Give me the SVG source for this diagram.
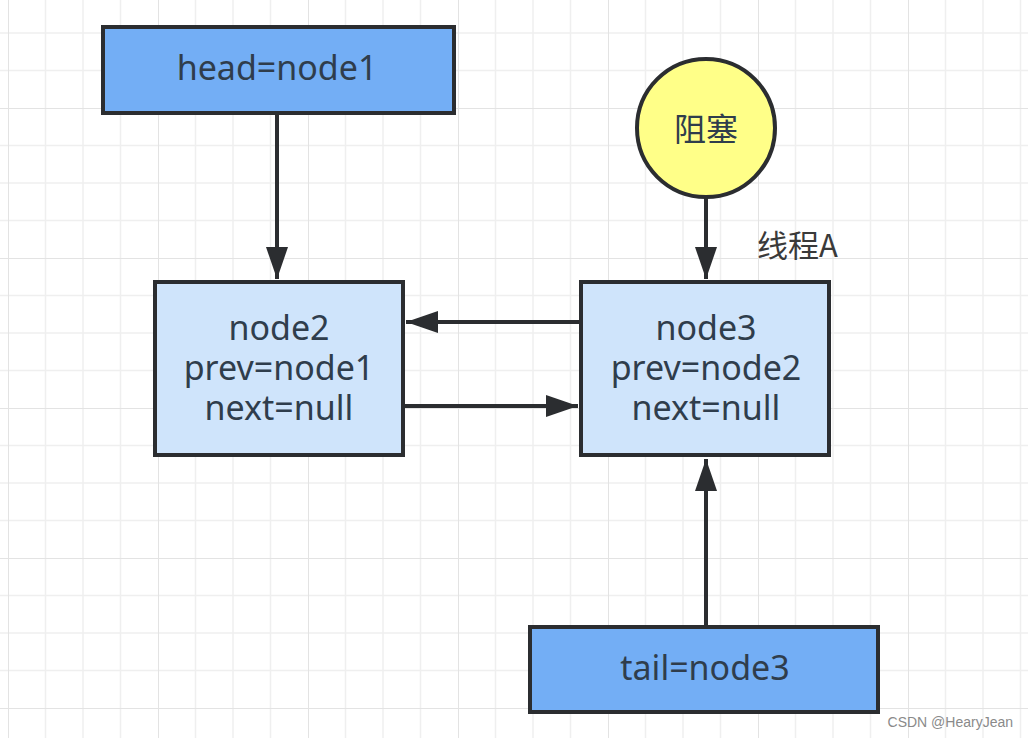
<svg xmlns="http://www.w3.org/2000/svg" width="1028" height="738" viewBox="0 0 1028 738">
<style>
.box{stroke:#2b2d30;stroke-width:4}
.dark{fill:#73aef5}
.light{fill:#cfe4fb}
.t{font-family:"Noto Sans","Noto Sans CJK SC",sans-serif;font-size:34px;fill:#2f3d4c;text-anchor:middle}
.edge{stroke:#2b2d30;stroke-width:4;fill:none}
</style>
<defs>
<pattern id="grid" x="8" y="108" width="150" height="150" patternUnits="userSpaceOnUse">
<path d="M37.5 0V150M75 0V150M112.5 0V150M0 37.5H150M0 75H150M0 112.5H150" stroke="#efefef" stroke-width="1.5" fill="none"/>
<path d="M0 0V150M0 0H150" stroke="#e3e3e3" stroke-width="2" fill="none"/>
</pattern>
<marker id="arr" viewBox="0 0 32 22" refX="32" refY="11" markerWidth="32" markerHeight="22" markerUnits="userSpaceOnUse" orient="auto">
<path d="M0 0L32 11L0 22Z" fill="#2b2d30"/>
</marker>
</defs>
<rect width="1028" height="738" fill="#ffffff"/>
<rect width="1028" height="738" fill="url(#grid)"/>
<g id="connectors">
<line class="edge" x1="277" y1="114" x2="277" y2="279" marker-end="url(#arr)"/>
<line class="edge" x1="706" y1="197" x2="706" y2="279" marker-end="url(#arr)"/>
<line class="edge" x1="579" y1="322" x2="406" y2="322" marker-end="url(#arr)"/>
<line class="edge" x1="404" y1="406" x2="578" y2="406" marker-end="url(#arr)"/>
<line class="edge" x1="706" y1="626" x2="706" y2="459" marker-end="url(#arr)"/>
</g>
<g id="head">
<rect class="box dark" x="103" y="27" width="351" height="86"/>
<text class="t" x="277" y="80">head=node1</text>
</g>
<g id="block">
<circle class="box" cx="706" cy="128" r="69" fill="#ffff88"/>
<text class="t" x="706" y="141" style="font-family:'Noto Sans CJK SC',sans-serif;font-size:32px">阻塞</text>
</g>
<g id="threadA">
<text x="757" y="257" style="font-family:'Noto Sans CJK SC',sans-serif;font-size:31px;fill:#3a3a3a">线程A</text>
</g>
<g id="node2">
<rect class="box light" x="155" y="282" width="248" height="173"/>
<text class="t" x="279" y="340">node2</text>
<text class="t" x="279" y="380">prev=node1</text>
<text class="t" x="279" y="420">next=null</text>
</g>
<g id="node3">
<rect class="box light" x="581" y="282" width="248" height="173"/>
<text class="t" x="706" y="340">node3</text>
<text class="t" x="706" y="380">prev=node2</text>
<text class="t" x="706" y="420">next=null</text>
</g>
<g id="tail">
<rect class="box dark" x="530" y="627" width="348" height="85"/>
<text class="t" x="705" y="680">tail=node3</text>
</g>
<text x="1013" y="727" text-anchor="end" style="font-family:'Liberation Sans',Arial,sans-serif;font-size:14px;fill:#8a8a8a">CSDN @HearyJean</text>
</svg>
